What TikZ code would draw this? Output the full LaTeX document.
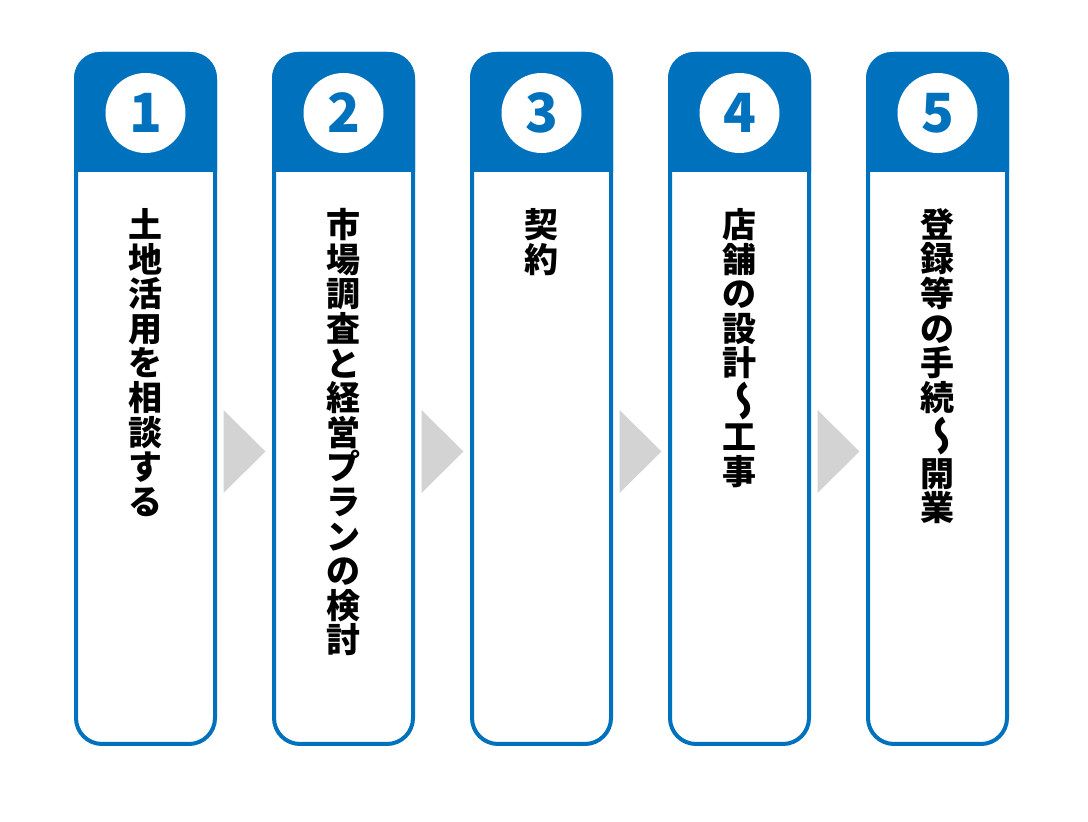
\documentclass[tikz,border=0pt]{standalone}
\usepackage{fontspec}
\usepackage{graphicx}
\usepackage{xcolor}
\usepackage{tikz}
\usetikzlibrary{calc,positioning}
\newfontfamily\jpfont{Noto Sans CJK JP}
\newcommand{\tatewave}{\scalebox{-1.2}[1.2]{\rotatebox[origin=c]{90}{～}}}
\definecolor{stepblue}{RGB}{0,113,188}
\definecolor{arrowgrey}{RGB}{211,211,211}

\begin{document}
\begin{tikzpicture}[x=0.5pt,y=-0.5pt,
    stepbox/.style={draw=stepblue,line width=2pt,fill=white,rounded corners=13pt,
      minimum width=69.5pt,minimum height=345pt,inner sep=0pt},
    numdisc/.style={circle,fill=white,minimum size=40pt,inner sep=0pt,text=stepblue,
      font=\jpfont\bfseries\fontsize{27}{27}\selectfont},
    steptext/.style={align=center,inner sep=0pt,
      font=\jpfont\bfseries\fontsize{17}{17.3}\selectfont}]
  \useasboundingbox (0,0) rectangle (1088,822);
  % step columns
  \foreach \i/\txt in {1/{土\\地\\活\\用\\を\\相\\談\\す\\る},
      2/{市\\場\\調\\査\\と\\経\\営\\プ\\ラ\\ン\\の\\検\\討},
      3/{契\\約},
      4/{店\\舗\\の\\設\\計\\\tatewave\\工\\事},
      5/{登\\録\\等\\の\\手\\続\\\tatewave\\開\\業}} {
    \node[stepbox] (box\i) at ({145.5+198*(\i-1)},399) {};
    \fill[stepblue] (box\i.west |- 0,172) [rounded corners=13pt] -- (box\i.north west)
      -- (box\i.north east) [sharp corners] -- (box\i.east |- 0,172) -- cycle;
    \node[numdisc] (num\i) at (box\i.north |- 0,113) {\i};
    \node[steptext,anchor=north] (txt\i) at (box\i.north |- 0,208) {\txt};
  }
  % arrows between columns
  \foreach \i [evaluate=\i as \j using int(\i+1)] in {1,...,4} {
    \fill[arrowgrey] ($(box\i.east)!0.5!(box\j.west)$) ++(-21,11) -- ++(42,41.5)
      -- ++(-42,41.5) -- cycle;
  }
\end{tikzpicture}
\end{document}
